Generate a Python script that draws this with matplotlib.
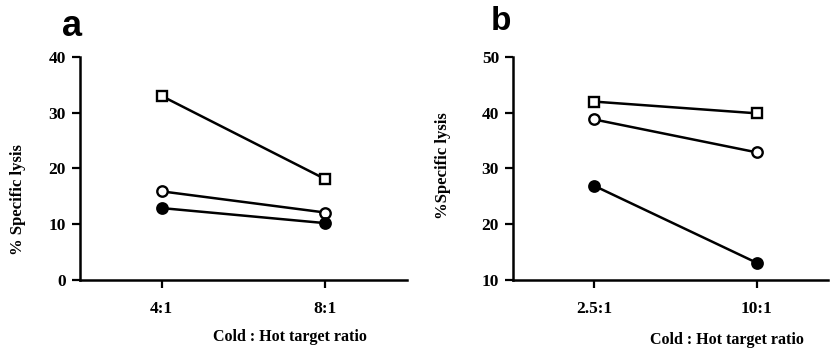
import numpy as np
import matplotlib.pyplot as plt

# panel a
ratios_a = ["4:1", "8:1"]
square_a = [33.0, 18.1]
open_a = [15.9, 12.1]
filled_a = [12.9, 10.2]

# panel b
ratios_b = ["2.5:1", "10:1"]
square_b = [42.0, 39.9]
open_b = [38.8, 32.9]
filled_b = [26.9, 13.1]

plt.rcParams["font.family"] = ["Liberation Serif", "DejaVu Serif"]
plt.rcParams["font.weight"] = "bold"

fig = plt.figure(figsize=(8.3, 3.49), dpi=100)
W, H = 830, 349


def add_ax(left, right, top, bottom):
    return fig.add_axes([left / W, 1 - bottom / H, (right - left) / W, (bottom - top) / H])


def draw(ax, labels, sq, op, fi, ylim, yticks, xlim):
    x = np.arange(len(labels))
    kw = dict(color="black", lw=1.8, ms=7.5, mew=1.7, clip_on=False)
    ax.plot(x, sq, marker="s", mfc="white", mec="black", **kw)
    ax.plot(x, op, marker="o", mfc="white", mec="black", **kw)
    ax.plot(x, fi, marker="o", mfc="black", mec="black", **kw)
    ax.set_xlim(*xlim)
    ax.set_ylim(*ylim)
    ax.set_xticks(x)
    ax.set_xticklabels(labels)
    ax.set_yticks(yticks)
    ax.spines["top"].set_visible(False)
    ax.spines["right"].set_visible(False)
    for s in ("left", "bottom"):
        ax.spines[s].set_linewidth(1.8)
    ax.tick_params(width=1.6, length=6, labelsize=12.5, pad=4)
    ax.tick_params(axis="x", pad=9)
    for t in ax.get_xticklabels() + ax.get_yticklabels():
        t.set_fontweight("bold")


ax1 = add_ax(80, 407, 57, 280)
draw(ax1, ratios_a, square_a, open_a, filled_a, (0, 40), [0, 10, 20, 30, 40], (-0.5, 1.5))

ax2 = add_ax(513, 828, 57, 280)
draw(ax2, ratios_b, square_b, open_b, filled_b, (10, 50), [10, 20, 30, 40, 50], (-0.5, 1.44))

fig.text(18 / W, 1 - 200 / H, "% Specific lysis", rotation=90, ha="center", va="center",
         fontsize=12, fontweight="bold")
fig.text(443 / W, 1 - 166 / H, "%Specific lysis", rotation=90, ha="center", va="center",
         fontsize=12, fontweight="bold")
fig.text(290 / W, 1 - 337 / H, "Cold : Hot target ratio", ha="center", va="center",
         fontsize=11.5, fontweight="bold")
fig.text(727 / W, 1 - 340 / H, "Cold : Hot target ratio", ha="center", va="center",
         fontsize=11.5, fontweight="bold")

fig.text(72 / W, 1 - 27 / H, "a", ha="center", va="center", fontsize=26,
         fontweight="heavy", family="Liberation Sans")
fig.text(501 / W, 1 - 22 / H, "b", ha="center", va="center", fontsize=24,
         fontweight="heavy", family="Liberation Sans")

fig.savefig("out.png", dpi=100)
